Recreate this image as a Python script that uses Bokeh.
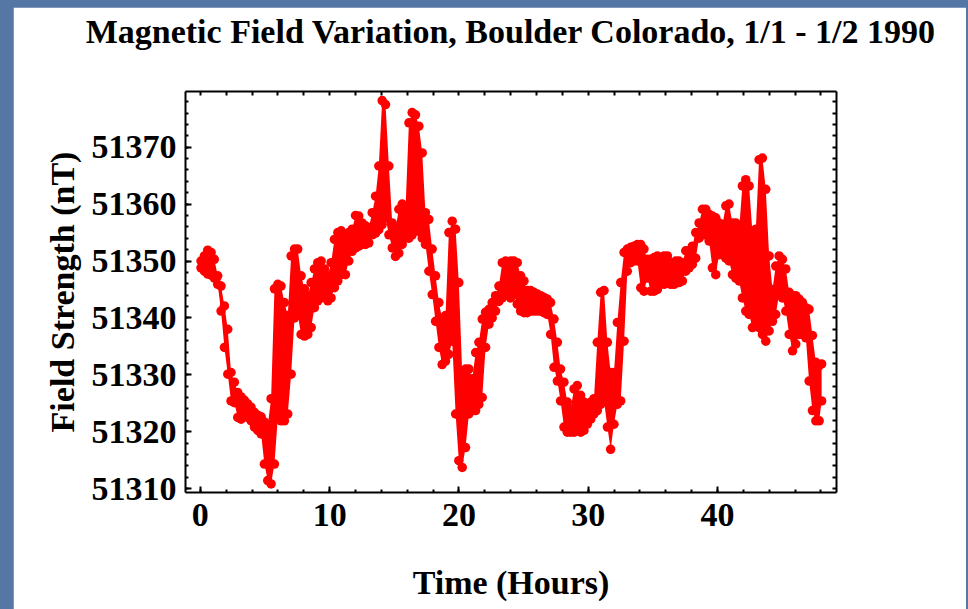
from bokeh.plotting import figure
from bokeh.layouts import column
from bokeh.models import (LinearAxis, FixedTicker, ColumnDataSource, Range1d)
from bokeh.embed import file_html
from bokeh.resources import INLINE

# ---- data (time in hours, envelope of field readings in nT) ----
hours = [
    0.05, 0.31, 0.57, 0.83, 1.08, 1.34, 1.60, 1.86, 2.12, 2.37, 2.63, 2.89, 3.15, 3.41, 3.66,
    3.92, 4.18, 4.44, 4.70, 4.95, 5.21, 5.47, 5.73, 5.99, 6.24, 6.50, 6.76, 7.02, 7.28, 7.53,
    7.79, 8.05, 8.31, 8.57, 8.82, 9.08, 9.34, 9.60, 9.86, 10.11, 10.37, 10.63, 10.89,
    11.22, 11.48, 11.74, 12.00, 12.25, 12.51, 12.77, 13.03, 13.29, 13.55, 13.80, 14.06, 14.32,
    14.58, 14.84, 15.09, 15.35, 15.61, 15.87, 16.13, 16.38, 16.64, 16.90, 17.16, 17.41, 17.67,
    17.93, 18.19, 18.45, 18.70, 18.96, 19.22, 19.48, 19.74, 19.99, 20.25, 20.51, 20.77, 21.03,
    21.29, 21.54, 21.80, 22.06, 22.32, 22.57, 22.83, 23.09, 23.35, 23.61,
    23.99, 24.25, 24.51, 24.77, 25.03, 25.28, 25.54, 25.80, 26.06, 26.32, 26.57, 26.83, 27.09,
    27.35, 27.61, 27.86, 28.12, 28.38, 28.64, 28.90, 29.15, 29.41, 29.67, 29.93, 30.19, 30.44,
    30.70, 30.96, 31.22, 31.48, 31.73, 31.99, 32.25, 32.51, 32.77, 33.02, 33.28, 33.54, 33.80,
    34.06, 34.31, 34.57, 34.83, 35.09, 35.35, 35.61, 35.86, 36.12, 36.38, 36.64,
    36.77, 37.02, 37.28, 37.54, 37.80, 38.05, 38.31, 38.57, 38.83, 39.09, 39.35, 39.60, 39.86,
    40.12, 40.38, 40.64, 40.89, 41.15, 41.41, 41.67, 41.92, 42.18, 42.44, 42.70, 42.96, 43.21,
    43.47, 43.73, 43.99, 44.25, 44.50, 44.76, 45.02, 45.28, 45.54, 45.80, 46.05, 46.31, 46.57,
    46.83, 47.08, 47.34, 47.60, 47.86, 48.05,
]
field_low = [
    51348.8, 51348.2, 51347.7, 51347.5, 51347.0, 51345.9, 51341.2, 51334.8, 51330.1, 51325.4,
    51325.1, 51322.5, 51322.2, 51323.1, 51322.5, 51321.9, 51320.8, 51320.2, 51319.6, 51314.3,
    51311.4, 51310.8, 51314.3, 51322.5, 51321.9, 51321.9, 51323.1, 51330.1, 51340.0, 51340.6,
    51337.1, 51336.8, 51337.1, 51338.3, 51341.8, 51343.0, 51343.5, 51344.1, 51343.0, 51343.5,
    51345.3, 51346.5, 51347.6,
    51347.6, 51350.0, 51351.7, 51352.3, 51352.6, 51352.9, 51352.9, 51353.2, 51354.6, 51354.9,
    51355.5, 51356.4, 51357.6, 51354.6, 51352.3, 51350.8, 51351.4, 51352.9, 51354.0, 51354.0,
    51354.6, 51355.8, 51355.2, 51354.0, 51352.9, 51348.2, 51344.1, 51339.4, 51334.8, 51331.8,
    51332.4, 51333.6, 51335.9, 51323.1, 51314.9, 51313.7, 51317.2, 51323.1, 51323.7, 51323.7,
    51324.8, 51326.0, 51334.8, 51338.9, 51340.0, 51341.2, 51342.9, 51343.5, 51344.1,
    51343.5, 51344.1, 51342.4, 51341.2, 51340.9, 51340.9, 51341.2, 51341.2, 51341.2, 51341.2,
    51340.9, 51340.6, 51337.1, 51331.3, 51328.9, 51325.4, 51320.8, 51319.9, 51319.9, 51319.9,
    51320.2, 51319.9, 51320.2, 51321.3, 51322.2, 51323.1, 51323.7, 51324.8, 51325.4, 51320.8,
    51316.9, 51321.3, 51324.8, 51325.4, 51335.9, 51348.2, 51349.7, 51350.0, 51350.0, 51345.3,
    51344.7, 51347.0, 51344.7, 51344.7, 51345.0, 51346.5, 51345.9, 51346.2, 51345.9, 51345.9,
    51346.2, 51346.2, 51346.5, 51348.2, 51348.8, 51349.4, 51350.5, 51354.0, 51354.6, 51354.6,
    51353.5, 51348.8, 51347.6, 51351.1, 51351.1, 51350.5, 51350.0, 51347.6, 51347.0, 51346.5,
    51343.5, 51341.2, 51340.6, 51338.3, 51338.9, 51338.3, 51337.1, 51335.9, 51337.7, 51339.4,
    51340.6, 51344.1, 51343.5, 51341.2, 51337.1, 51334.2, 51335.4, 51337.1, 51337.1, 51336.5,
    51328.9, 51323.7, 51321.9, 51321.9, 51325.4,
]
field_high = [
    51350.0, 51350.9, 51351.9, 51351.5, 51350.3, 51347.4, 51345.6, 51342.1, 51338.0, 51330.4,
    51328.7, 51326.9, 51326.1, 51325.5, 51324.9, 51324.3, 51323.4, 51322.9, 51322.6, 51321.7,
    51321.1, 51325.8, 51345.1, 51345.9, 51345.6, 51342.7, 51340.4, 51350.9, 51352.1, 51352.1,
    51347.4, 51345.1, 51343.9, 51346.2, 51348.6, 51349.7, 51350.0, 51348.6, 51347.4, 51349.7,
    51353.8, 51355.0, 51355.3,
    51354.4, 51355.0, 51355.6, 51358.0, 51357.9, 51356.7, 51356.2, 51355.9, 51358.5, 51361.4,
    51366.7, 51378.2, 51377.5, 51366.7, 51356.7, 51355.6, 51359.1, 51360.0, 51359.4, 51374.3,
    51376.1, 51375.7, 51373.7, 51369.0, 51358.5, 51357.3, 51352.1, 51347.4, 51342.7, 51339.8,
    51340.4, 51355.0, 51357.0, 51355.6, 51346.2, 51330.4, 51331.0, 51331.0, 51329.3, 51333.9,
    51335.7, 51339.8, 51341.0, 51341.5, 51342.7, 51343.9, 51345.6, 51349.7, 51350.0,
    51350.0, 51350.0, 51349.7, 51347.4, 51346.5, 51344.8, 51344.8, 51344.5, 51344.2, 51343.9,
    51343.6, 51343.3, 51342.7, 51339.8, 51335.7, 51331.0, 51328.7, 51325.2, 51324.0, 51327.5,
    51328.1, 51326.4, 51325.2, 51324.9, 51325.2, 51325.8, 51335.7, 51344.5, 51344.8, 51335.7,
    51330.4, 51330.4, 51339.2, 51346.2, 51351.5, 51352.1, 51352.4, 51352.6, 51352.9, 51352.9,
    51352.1, 51350.3, 51350.3, 51350.6, 51350.9, 51349.7, 51350.9, 51350.9, 51349.7, 51349.7,
    51350.0, 51350.0, 51349.7, 51351.8, 51351.8, 51352.6, 51355.0, 51356.7, 51359.1, 51359.1,
    51358.2, 51357.9, 51357.6, 51356.7, 51356.4, 51359.7, 51360.0, 51356.7, 51356.7, 51355.6,
    51363.2, 51364.3, 51363.2, 51355.0, 51355.6, 51367.8, 51368.1, 51362.6, 51350.9, 51345.0,
    51349.1, 51350.9, 51350.3, 51348.6, 51344.5, 51343.9, 51343.9, 51343.3, 51342.7, 51341.8,
    51341.5, 51336.9, 51332.2, 51331.6, 51331.9,
]

title_text = "Magnetic Field Variation, Boulder Colorado, 1/1 - 1/2 1990"
x_label = "Time (Hours)"
y_label = "Field Strength (nT)"
x_major = [0, 10, 20, 30, 40]
y_major = [51310, 51320, 51330, 51340, 51350, 51360, 51370]

x_minor = [v for v in range(-2, 50, 2)]
y_minor = [v for v in range(51308, 51382, 2)]

FONT = "Liberation Serif"
RED = "#ff0000"
SLIDE_BLUE = "#5577a5"

src = ColumnDataSource(dict(h=hours, lo=field_low, hi=field_high))

# white slide panel: 13..966 horizontally, 7..609 vertically inside the blue page
p = figure(width=953, height=602, output_backend="svg", toolbar_location=None,
           x_range=Range1d(-1.15, 49.2), y_range=Range1d(51309.3, 51379.8),
           min_border_left=172, min_border_right=130, min_border_top=84, min_border_bottom=117)
p.margin = (7, 2, 0, 13)
p.border_fill_color = "white"
p.background_fill_color = "white"
p.outline_line_color = None
p.xgrid.visible = False
p.ygrid.visible = False
p.title.visible = False

# data
p.varea(x="h", y1="lo", y2="hi", source=src, fill_color=RED)
p.scatter(x="h", y="lo", source=src, size=9.5, fill_color=RED, line_color=None)
p.scatter(x="h", y="hi", source=src, size=9.5, fill_color=RED, line_color=None)

xt = FixedTicker(ticks=x_major, minor_ticks=x_minor)
yt = FixedTicker(ticks=y_major, minor_ticks=y_minor)
# mirror ticks on the top and right edges (no tick labels there)
xt_mirror = FixedTicker(ticks=[], minor_ticks=x_major + x_minor)
yt_mirror = FixedTicker(ticks=[], minor_ticks=y_major + y_minor)


def style(ax):
    ax.axis_line_color = "black"
    ax.axis_line_width = 2
    ax.major_tick_in = 6
    ax.major_tick_out = 0
    ax.minor_tick_in = 3
    ax.minor_tick_out = 0
    ax.major_tick_line_width = 2
    ax.minor_tick_line_width = 2
    ax.major_tick_line_color = "black"
    ax.minor_tick_line_color = "black"
    ax.major_label_text_font = FONT
    ax.major_label_text_font_style = "bold"
    ax.major_label_text_font_size = "34px"
    ax.major_label_text_color = "black"
    ax.axis_label_text_font = FONT
    ax.axis_label_text_font_style = "bold"
    ax.axis_label_text_font_size = "34px"
    ax.axis_label_text_color = "black"


xa = p.xaxis[0]
xa.ticker = xt
style(xa)
xa.axis_label = x_label
xa.major_label_standoff = 11
xa.axis_label_standoff = 35

ya = p.yaxis[0]
ya.ticker = yt
style(ya)
ya.axis_label = y_label
ya.major_label_standoff = 9
ya.axis_label_standoff = 8

# top mirror axis; the chart title is carried as its label, centred over the frame
top_ax = LinearAxis(ticker=xt_mirror)
style(top_ax)
top_ax.minor_tick_in = 4
top_ax.axis_label = title_text
top_ax.axis_label_standoff = 42
p.add_layout(top_ax, "above")

right_ax = LinearAxis(ticker=yt_mirror)
style(right_ax)
right_ax.minor_tick_in = 4
p.add_layout(right_ax, "right")

root = column(p, styles={"background-color": SLIDE_BLUE})
open("out.html", "w").write(file_html(root, INLINE))
